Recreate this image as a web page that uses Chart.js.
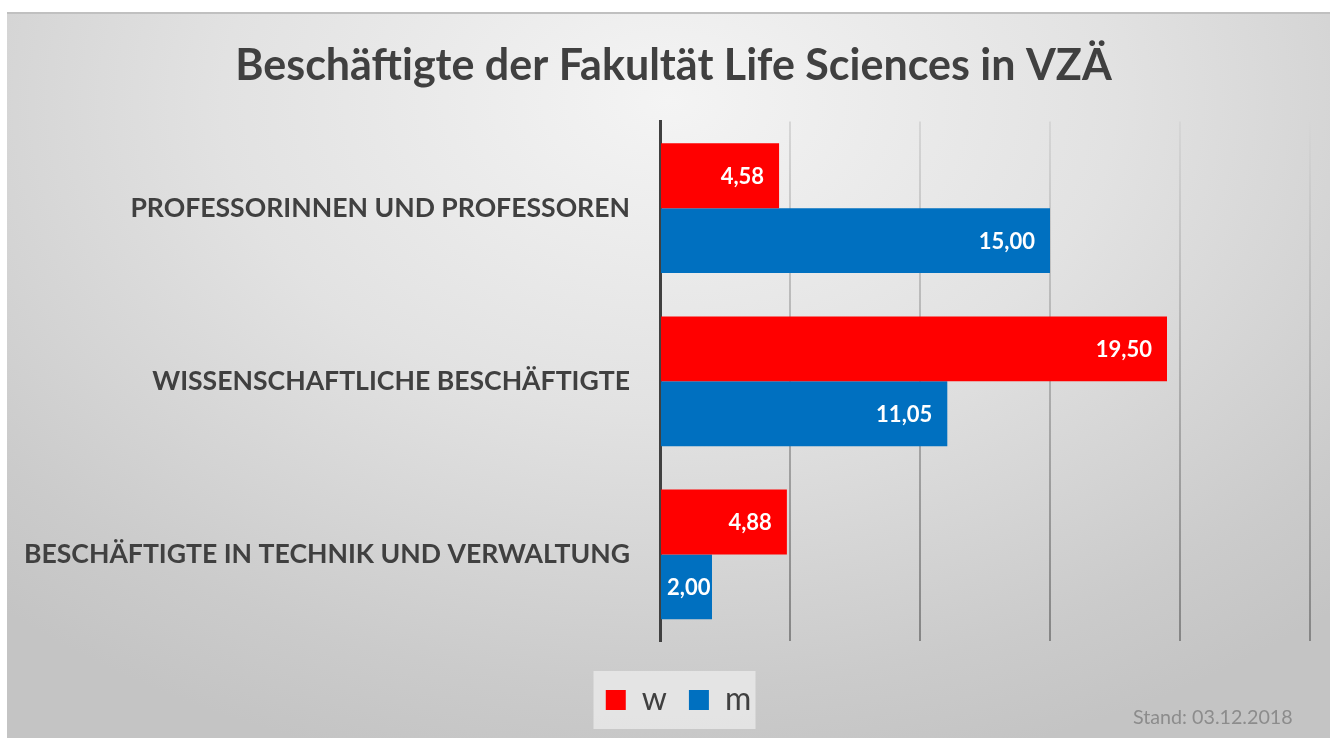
<!DOCTYPE html>
<html>
<head>
<meta charset="utf-8">
<script src="https://cdn.jsdelivr.net/npm/chart.js@4.4.0/dist/chart.umd.min.js"></script>
<style>
  html, body { margin: 0; padding: 0; background: #fff; }
  #wrap {
    position: absolute; left: 7px; top: 12px; width: 1323px; height: 726px;
    border-top: 2px solid #c0c0c0; box-sizing: border-box;
    background: radial-gradient(ellipse 75% 95% at 50% 12%, #f4f4f4 0%, #e2e2e2 45%, #cbcbcb 85%, #c4c4c4 100%);
  }
  #chart { position: absolute; left: 0; top: -2px; }
  #stand {
    position: absolute; left: 1126px; top: 691px;
    font: 19.7px Lato, sans-serif; color: #8c8c8c;
  }
</style>
</head>
<body>
<div id="wrap">
  <canvas id="chart" width="1323" height="726"></canvas>
  <div id="stand">Stand: 03.12.2018</div>
</div>
<script>
// chart data
const categories = [
  'PROFESSORINNEN UND PROFESSOREN',
  'WISSENSCHAFTLICHE BESCHÄFTIGTE',
  'BESCHÄFTIGTE IN TECHNIK UND VERWALTUNG'
];
const seriesNames = ['w', 'm'];
const valuesW = [4.58, 19.50, 4.88];
const valuesM = [15.00, 11.05, 2.00];

const RED = '#ff0000';
const BLUE = '#0070c0';
const TEXT = '#404040';

// white value labels at the inner end of each bar
const valueLabels = {
  id: 'valueLabels',
  afterDatasetsDraw(chart) {
    const ctx = chart.ctx;
    ctx.save();
    ctx.font = 'bold 22px Lato';
    ctx.fillStyle = '#ffffff';
    ctx.textBaseline = 'middle';
    ctx.textAlign = 'left';
    chart.data.datasets.forEach((ds, i) => {
      chart.getDatasetMeta(i).data.forEach((bar, j) => {
        const txt = ds.data[j].toFixed(2).replace('.', ',');
        const w = ctx.measureText(txt).width;
        const x = Math.max(bar.x - 15 - w, bar.base + 6);
        ctx.fillText(txt, x, bar.y + 1);
      });
    });
    ctx.restore();
  }
};

// nudge title and legend to the right, draw the light box behind the legend
const legendBox = {
  id: 'legendBox',
  afterLayout(chart) {
    const lg = chart.legend;
    if (lg) { lg.left += 20; lg.right += 20; }
    const tb = chart.titleBlock;
    if (tb) { tb.left += 15; tb.right += 15; }
  },
  beforeDraw(chart) {
    const hb = chart.legend && chart.legend.legendHitBoxes;
    if (!hb || !hb.length) return;
    const first = hb[0], last = hb[hb.length - 1];
    const cx = (first.left + last.left + last.width) / 2 - 4;
    const cy = first.top + first.height / 2;
    const ctx = chart.ctx;
    ctx.save();
    ctx.fillStyle = 'rgba(236,236,236,0.75)';
    ctx.fillRect(cx - 81, cy - 29, 162, 58);
    ctx.restore();
  }
};

function gridGradient(context) {
  const chart = context.chart;
  const area = chart.chartArea;
  if (!area) return '#999';
  const g = chart.ctx.createLinearGradient(0, area.top, 0, area.bottom);
  g.addColorStop(0, '#d6d6d6');
  g.addColorStop(1, '#858585');
  return g;
}

new Chart(document.getElementById('chart'), {
  type: 'bar',
  data: {
    labels: categories,
    datasets: [
      { label: seriesNames[0], data: valuesW, backgroundColor: RED, borderWidth: 0 },
      { label: seriesNames[1], data: valuesM, backgroundColor: BLUE, borderWidth: 0 }
    ]
  },
  options: {
    indexAxis: 'y',
    responsive: false,
    animation: false,
    layout: { padding: { left: 0, right: 20, top: 0, bottom: 12 } },
    datasets: { bar: { categoryPercentage: 0.75, barPercentage: 1.0 } },
    scales: {
      x: {
        min: 0, max: 25,
        ticks: { display: false, stepSize: 5 },
        grid: { color: gridGradient, lineWidth: 2, drawTicks: false },
        border: { display: false }
      },
      y: {
        afterFit(scale) { scale.width = 653; },
        grid: { display: false, drawTicks: false },
        border: { display: true, color: TEXT, width: 3 },
        ticks: { color: TEXT, padding: 30, font: { family: 'Lato', size: 26.6, weight: 'bold' } }
      }
    },
    plugins: {
      title: {
        display: true,
        text: 'Beschäftigte der Fakultät Life Sciences in VZÄ',
        color: TEXT,
        font: { family: 'Lato', size: 43, weight: 'bold' },
        padding: { top: 28, bottom: 30 }
      },
      legend: {
        position: 'bottom',
        title: { display: true, text: '', font: { size: 10 }, padding: { top: 0, bottom: 9 } },
        labels: {
          color: TEXT, boxWidth: 20, boxHeight: 20, padding: 22,
          font: { family: 'Lato', size: 32 }
        }
      },
      tooltip: { enabled: false }
    }
  },
  plugins: [valueLabels, legendBox]
});
</script>
</body>
</html>
